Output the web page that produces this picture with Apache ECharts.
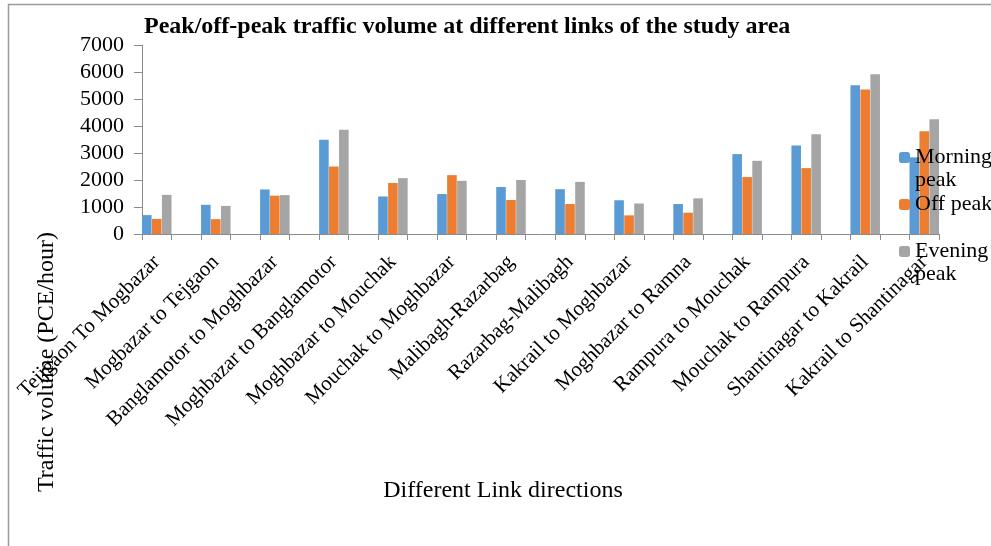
<!DOCTYPE html>
<html>
<head>
<meta charset="utf-8">
<script src="https://cdn.jsdelivr.net/npm/echarts@6/dist/echarts.min.js"></script>
<style>
  html, body { margin: 0; padding: 0; background: #fff; }
  #chart { width: 991px; height: 546px; }
</style>
</head>
<body>
<div id="chart"></div>
<script>
// 路段名称
const links = [
  'Teijgaon To Mogbazar',
  'Mogbazar to Tejgaon',
  'Banglamotor to Moghbazar',
  'Moghbazar to Banglamotor',
  'Moghbazar to Mouchak',
  'Mouchak to Moghbazar',
  'Malibagh-Razarbag',
  'Razarbag-Malibagh',
  'Kakrail to Moghbazar',
  'Moghbazar to Ramna',
  'Rampura to Mouchak',
  'Mouchak to Rampura',
  'Shantinagar to Kakrail',
  'Kakrail to Shantinagar'
]

const morningPeak = [700, 1080, 1650, 3490, 1390, 1480, 1740, 1660, 1250, 1110, 2960, 3280, 5510, 2840]
const offPeak = [560, 550, 1420, 2500, 1890, 2180, 1260, 1110, 690, 790, 2110, 2440, 5350, 3810]
const eveningPeak = [1450, 1040, 1440, 3860, 2070, 1970, 2000, 1930, 1130, 1320, 2710, 3690, 5920, 4250]

const yTicks = [0, 7000, 1000] // min, max, interval

const font = 'Liberation Serif, Times New Roman, serif'

// 原图每两个路段之间有一个空行
const spread = (arr, blank) => {
  const out = []
  arr.forEach((v, i) => {
    if (i > 0) out.push(blank)
    out.push(v)
  })
  return out
}

const chart = echarts.init(document.getElementById('chart'))

const option = {
  animation: false,
  title: {
    text: 'Peak/off-peak traffic volume at different links of the study area',
    left: 139,
    top: 10,
    textStyle: {
      fontFamily: font,
      fontSize: 24,
      fontWeight: 'bold',
      color: '#000'
    }
  },
  legend: {
    orient: 'vertical',
    left: 899,
    top: 123,
    padding: 0,
    itemGap: 1,
    itemWidth: 11,
    itemHeight: 11,
    itemStyle: { borderWidth: 0 },
    textStyle: {
      fontFamily: font,
      fontSize: 22,
      lineHeight: 23,
      color: '#000'
    },
    data: ['Morning peak', 'Off peak', 'Evening peak'],
    // 两行的图例文字：首行与色块对齐
    formatter: (name) => name === 'Off peak' ? name : '\n' + name.replace(' ', '\n')
  },
  grid: {
    left: 142,
    right: 52,
    top: 45,
    bottom: 312,
    containLabel: false,
    outerBoundsMode: 'none'
  },
  xAxis: {
    type: 'category',
    data: spread(links, ''),
    axisLine: { lineStyle: { color: '#8c8c8c', width: 1 } },
    axisTick: {
      show: true,
      interval: 0,
      length: 6,
      lineStyle: { color: '#8c8c8c' }
    },
    axisLabel: {
      interval: 0,
      rotate: 45,
      margin: 25,
      fontFamily: font,
      fontSize: 21,
      color: '#000'
    }
  },
  yAxis: {
    type: 'value',
    min: yTicks[0],
    max: yTicks[1],
    interval: yTicks[2],
    axisLine: { show: true, lineStyle: { color: '#8c8c8c', width: 1 } },
    axisTick: { show: true, length: 8, lineStyle: { color: '#8c8c8c' } },
    splitLine: { show: false },
    axisLabel: {
      margin: 18,
      fontFamily: font,
      fontSize: 22,
      color: '#000',
      formatter: (v) => String(v)
    }
  },
  series: [
    {
      name: 'Morning peak',
      type: 'bar',
      data: spread(morningPeak, '-'),
      barGap: '4%',
      barCategoryGap: '0%',
      itemStyle: { color: '#5b9bd5' }
    },
    {
      name: 'Off peak',
      type: 'bar',
      data: spread(offPeak, '-'),
      itemStyle: { color: '#ed7d31' }
    },
    {
      name: 'Evening peak',
      type: 'bar',
      data: spread(eveningPeak, '-'),
      itemStyle: { color: '#a5a5a5' }
    }
  ],
  graphic: [
    // 外框
    {
      type: 'polyline',
      shape: { points: [[8.5, 546], [8.5, 4.5], [991, 4.5]] },
      style: { stroke: '#9a9a9a', lineWidth: 1.5, fill: null },
      silent: true
    },
    // 坐标轴标题
    {
      type: 'text',
      x: 47,
      y: 362,
      rotation: Math.PI / 2,
      style: {
        text: 'Traffic volume (PCE/hour)',
        fontFamily: font,
        fontSize: 24,
        fill: '#000',
        align: 'center',
        verticalAlign: 'middle'
      }
    },
    {
      type: 'text',
      x: 503,
      y: 491,
      style: {
        text: 'Different Link directions',
        fontFamily: font,
        fontSize: 24,
        fill: '#000',
        align: 'center',
        verticalAlign: 'middle'
      }
    }
  ]
}

chart.setOption(option)
</script>
</body>
</html>
